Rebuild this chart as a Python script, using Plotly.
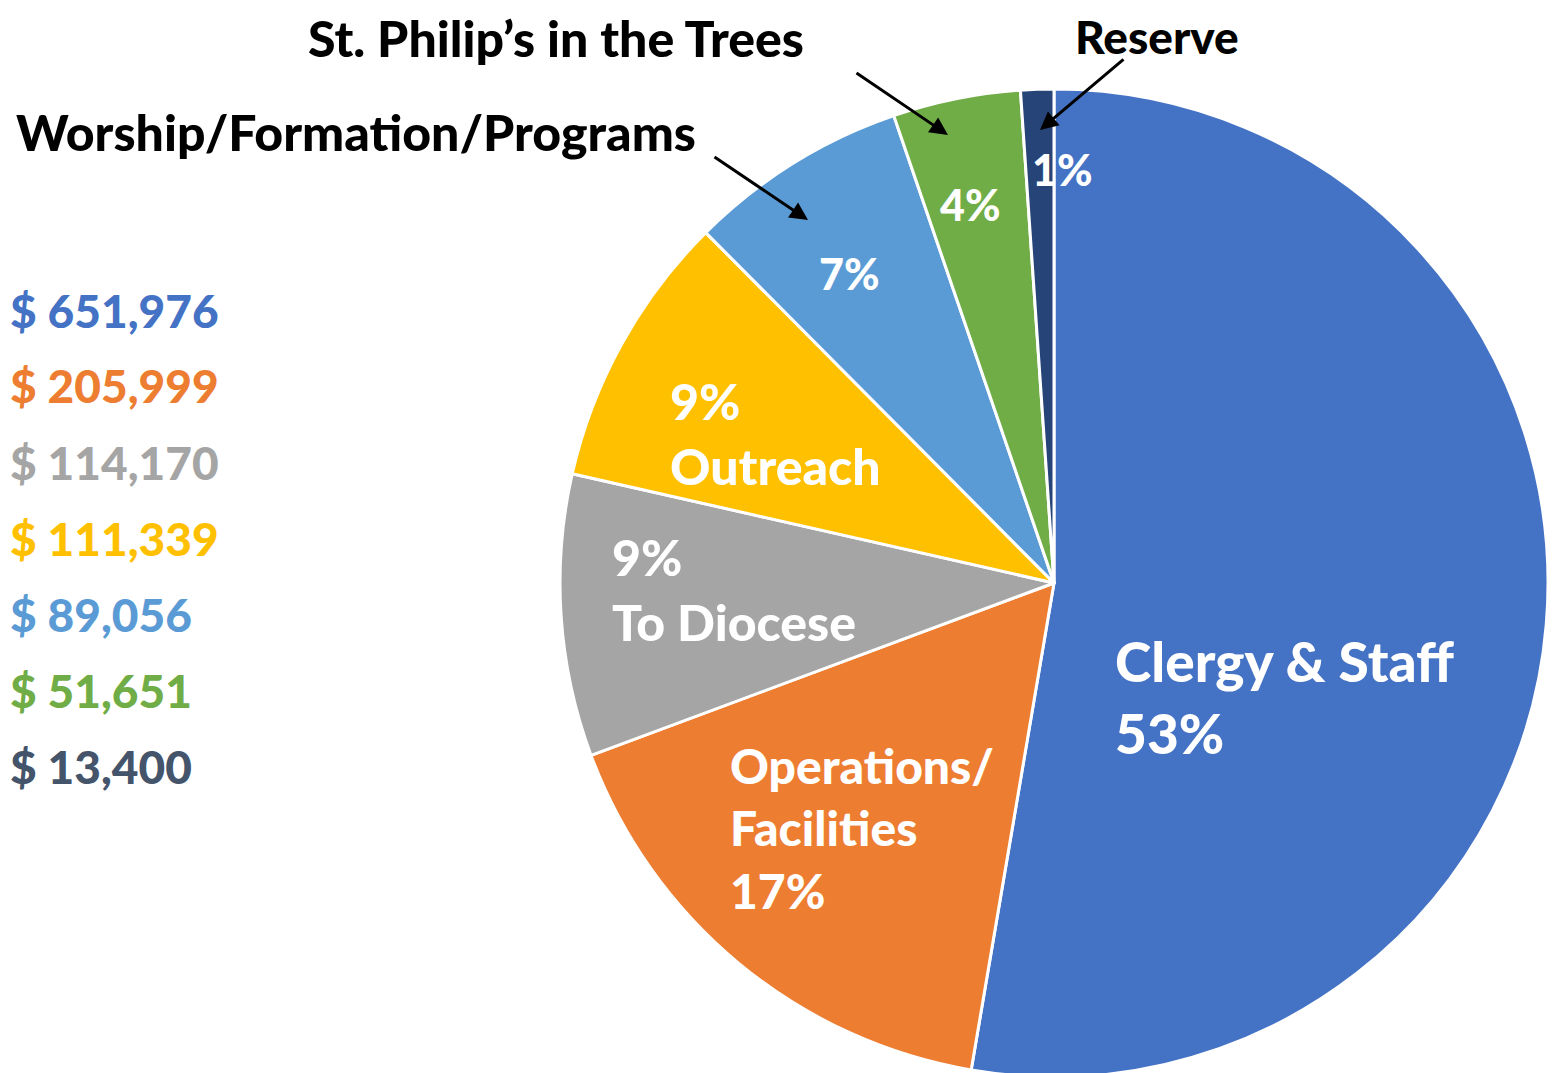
import plotly.graph_objects as go

W, H = 1559, 1073
OFF = 8  # page body margin shifts the whole figure

categories = ["Clergy & Staff", "Operations/Facilities", "To Diocese", "Outreach",
              "Worship/Formation/Programs", "St. Philip's in the Trees", "Reserve"]
amounts = [651976, 205999, 114170, 111339, 89056, 51651, 13400]
slice_colors = ["#4472C4", "#ED7D31", "#A5A5A5", "#FFC000", "#5B9BD5", "#70AD47", "#264478"]
amount_colors = ["#4472C4", "#ED7D31", "#A5A5A5", "#FFC000", "#5B9BD5", "#70AD47", "#44546A"]

FONT = "'Lato Black', 'Lato Heavy', Lato, 'Open Sans', sans-serif"
total = sum(amounts)
pct = [f"{round(v / total * 100)}%" for v in amounts]


def px(x):
    return (x - OFF) / W


def py(y):
    return 1 - (y - OFF) / H


fig = go.Figure(go.Pie(
    labels=categories, values=amounts, sort=False, direction="clockwise", rotation=0,
    marker=dict(colors=slice_colors, line=dict(color="white", width=3)),
    textinfo="none", hoverinfo="skip", showlegend=False,
    domain=dict(x=[px(559), px(1549)], y=[py(1077), py(89)]),
))

ann = []
# dollar amounts down the left side
for i, (v, c) in enumerate(zip(amounts, amount_colors)):
    ann.append(dict(text=f"$ {v:,}", x=px(8), y=py(310 + i * 76), xanchor="left",
                    yanchor="middle", showarrow=False,
                    font=dict(family=FONT, size=46, color=c, weight="bold")))

# labels inside slices
inside = [
    (f"{categories[0]}<br>{pct[0]}", 1113, 697, 55),
    (f"Operations/<br>Facilities<br>{pct[1]}", 728, 828, 48),
    (f"{pct[2]}<br>{categories[2]}", 610, 589, 50),
    (f"{pct[3]}<br>{categories[3]}", 668, 433, 50),
]
for t, x, y, s in inside:
    ann.append(dict(text=t, x=px(x), y=py(y), xanchor="left", yanchor="middle", align="left",
                    showarrow=False, font=dict(family=FONT, size=s, color="white", weight="bold")))
for t, x, y in [(pct[4], 849, 273), (pct[5], 970, 205), (pct[6], 1062, 170)]:
    ann.append(dict(text=t, x=px(x), y=py(y), xanchor="center", yanchor="middle",
                    showarrow=False, font=dict(family=FONT, size=43, color="white", weight="bold")))

# outside labels
for t, x, y, s in [(categories[5], 556, 38, 50), (categories[4], 356, 132, 50),
                   (categories[6], 1157, 37, 46)]:
    ann.append(dict(text=t.replace("'", "’"), x=px(x), y=py(y), xanchor="center",
                    yanchor="middle", showarrow=False,
                    font=dict(family=FONT, size=s, color="black", weight="bold")))

# arrows
for hx, hy, tx, ty in [(948, 135, 855, 72), (1040, 130, 1125, 58), (808, 220, 713, 156)]:
    ann.append(dict(text="", x=px(hx), y=py(hy), ax=tx - hx, ay=ty - hy, showarrow=True,
                    arrowhead=2, arrowsize=1.2, arrowwidth=3, arrowcolor="black"))

fig.update_layout(width=W, height=H, margin=dict(l=0, r=0, t=0, b=0),
                  paper_bgcolor="white", plot_bgcolor="white", annotations=ann)
fig.write_html("out.html")
